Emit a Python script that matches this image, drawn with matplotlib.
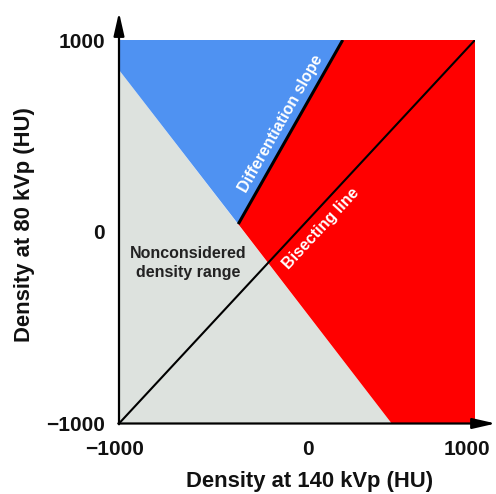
import matplotlib
matplotlib.use("Agg")
import matplotlib.pyplot as plt
import matplotlib.transforms as mtransforms
import numpy as np

plt.rcParams['font.family'] = ['Liberation Sans', 'DejaVu Sans']

# ---- data (HU) ----
axis_limits = [-1000, 1000]
tick_values = [-1000, 0, 1000]
tick_labels = ['\u22121000', '0', '1000']

# boundary of the non-considered density range (straight line)
gray_boundary_x = [-1000, 532]
gray_boundary_y = [844, -1000]

# differentiation slope (starts on the gray boundary, ends at top edge)
diff_slope_x = [-330, 257]
diff_slope_y = [40, 1000]

# bisecting line
bisect_x = [-1000, 1000]
bisect_y = [-1000, 1000]

xlabel = 'Density at 140 kVp (HU)'
ylabel = 'Density at 80 kVp (HU)'
label_nonconsidered = 'Nonconsidered\ndensity range'
label_diff = 'Differentiation slope'
label_bisect = 'Bisecting line'

# ---- figure ----
fig = plt.figure(figsize=(4.96, 4.94), dpi=100)
ax = fig.add_axes([119/496, 1 - 423.5/494, 356/496, 383.5/494])
lo, hi = axis_limits
ax.set_xlim(lo, hi)
ax.set_ylim(lo, hi)

gray_c = '#dde2de'
blue_c = '#4f92f2'
red_c = '#ff0000'

# gray triangle
ax.fill([lo, gray_boundary_x[0], gray_boundary_x[1]],
        [lo, gray_boundary_y[0], gray_boundary_y[1]],
        color=gray_c, lw=0, zorder=1)
# blue region
ax.fill([gray_boundary_x[0], lo, diff_slope_x[1], diff_slope_x[0]],
        [gray_boundary_y[0], hi, diff_slope_y[1], diff_slope_y[0]],
        color=blue_c, lw=0, zorder=1)
# red region
ax.fill([diff_slope_x[0], diff_slope_x[1], hi, hi, gray_boundary_x[1]],
        [diff_slope_y[0], diff_slope_y[1], hi, lo, gray_boundary_y[1]],
        color=red_c, lw=0, zorder=1)

ax.plot(bisect_x, bisect_y, color='black', lw=1.5, zorder=3, solid_capstyle='butt')
ax.plot(diff_slope_x, diff_slope_y, color='black', lw=2.2, zorder=3, solid_capstyle='butt')

for s in ax.spines.values():
    s.set_visible(False)

# axis arrows
arrow_kw = dict(arrowstyle='-|>,head_length=1.4,head_width=0.32', color='black',
                lw=1.6, mutation_scale=10, shrinkA=0, shrinkB=0)
ax.annotate('', xy=(0, 1.072), xytext=(0, -0.002), xycoords='axes fraction',
            textcoords='axes fraction', arrowprops=arrow_kw, annotation_clip=False)
ax.annotate('', xy=(1.058, 0), xytext=(-0.002, 0), xycoords='axes fraction',
            textcoords='axes fraction', arrowprops=arrow_kw, annotation_clip=False)

ax.set_xticks(tick_values)
ax.set_xticklabels(tick_labels)
ax.set_yticks(tick_values)
ax.set_yticklabels(tick_labels)
ax.tick_params(axis='both', length=0, labelsize=15)
ax.tick_params(axis='x', pad=12)
ax.tick_params(axis='y', pad=10)
for t in ax.get_xticklabels() + ax.get_yticklabels():
    t.set_fontweight('bold')
    t.set_color('#111111')

# small horizontal nudges of x tick labels as in the reference (pixels)
x_label_shift_px = [-4, 11, -8]
for t, dx in zip(ax.get_xticklabels(), x_label_shift_px):
    t.set_transform(t.get_transform() + mtransforms.ScaledTranslation(dx / 100, 0, fig.dpi_scale_trans))

ax.set_xlabel(xlabel, fontsize=15.8, fontweight='bold', color='#111111')
ax.set_ylabel(ylabel, fontsize=15.8, fontweight='bold', color='#111111')
ax.xaxis.set_label_coords(0.534, -0.125)
ax.yaxis.set_label_coords(-0.236, 0.52)

# in-plot labels
ang_diff = np.degrees(np.arctan2(diff_slope_y[1] - diff_slope_y[0], diff_slope_x[1] - diff_slope_x[0]))
ang_bis = np.degrees(np.arctan2(bisect_y[1] - bisect_y[0], bisect_x[1] - bisect_x[0]))
ax.text(-90, 561, label_diff, color='white', fontsize=11.5, fontweight='bold',
        rotation=ang_diff, transform_rotates_text=True, rotation_mode='anchor',
        ha='center', va='center', zorder=4)
ax.text(135, 18, label_bisect, color='white', fontsize=11.5, fontweight='bold',
        rotation=ang_bis, transform_rotates_text=True, rotation_mode='anchor',
        ha='center', va='center', zorder=4)
ax.text(-612, -164, label_nonconsidered, color='#222222', fontsize=11.5, fontweight='bold',
        ha='center', va='center', linespacing=1.3, zorder=4)

fig.savefig('out.png', dpi=100)
